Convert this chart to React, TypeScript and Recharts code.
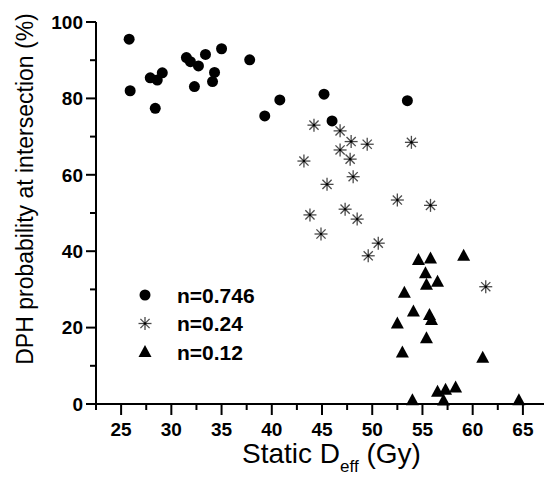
import { ScatterChart, Scatter, XAxis, YAxis, Legend, Label } from 'recharts'

// Static D_eff (Gy), DPH probability (%)
const n0746 = [
    [25.8, 95.5], [25.9, 82.0], [27.9, 85.4], [28.6, 84.8], [29.1, 86.7],
    [28.4, 77.4], [31.5, 90.7], [31.9, 89.6], [32.7, 88.5], [33.4, 91.5],
    [35.0, 93.0], [32.3, 83.1], [34.3, 86.8], [34.1, 84.4], [37.8, 90.1],
    [40.8, 79.6], [39.3, 75.4], [45.2, 81.1], [53.5, 79.4], [46.0, 74.1],
]
const n024 = [
    [44.2, 73.0], [46.8, 71.5], [47.9, 68.7], [49.5, 68.0], [46.8, 66.5],
    [47.8, 64.1], [53.9, 68.5], [43.2, 63.6], [48.1, 59.5], [45.5, 57.5],
    [52.5, 53.4], [55.8, 52.0], [43.8, 49.5], [47.3, 51.0], [48.5, 48.4],
    [44.9, 44.5], [50.6, 42.1], [49.6, 38.8], [61.3, 30.7],
]
const n012 = [
    [54.6, 37.7], [55.8, 38.1], [59.1, 38.8], [55.3, 34.2], [56.5, 32.0],
    [55.4, 31.2], [53.2, 29.1], [54.1, 24.2], [55.7, 23.3], [55.9, 22.0],
    [52.5, 21.1], [55.4, 17.2], [53.0, 13.5], [61.0, 12.1], [54.0, 1.0],
    [56.5, 3.2], [57.3, 3.7], [58.3, 4.3], [57.1, 0.9], [64.6, 1.0],
]

const xTicks = [22.5, 25, 27.5, 30, 32.5, 35, 37.5, 40, 42.5, 45, 47.5, 50, 52.5, 55, 57.5, 60, 62.5, 65]
const yTicks = [0, 10, 20, 30, 40, 50, 60, 70, 80, 90, 100]
const seriesNames = ['n=0.746', 'n=0.24', 'n=0.12']

const font = '"Liberation Sans", Arial, sans-serif'

const toPoints = (arr: number[][]) => arr.map(([x, y]) => ({ x, y }))

const Dot = ({ cx, cy }: any) => <circle cx={cx} cy={cy} r={5.5} fill="#000" />

const Asterisk = ({ cx, cy }: any) => {
    const r = 6.5
    const d = r * 0.7071
    return (
        <g stroke="#4a4a4a" strokeWidth={1.3}>
            <line x1={cx - r} y1={cy} x2={cx + r} y2={cy} />
            <line x1={cx} y1={cy - r} x2={cx} y2={cy + r} />
            <line x1={cx - d} y1={cy - d} x2={cx + d} y2={cy + d} />
            <line x1={cx - d} y1={cy + d} x2={cx + d} y2={cy - d} />
            <circle cx={cx} cy={cy} r={1.3} fill="#000" stroke="none" />
        </g>
    )
}

const Tri = ({ cx, cy }: any) => (
    <path d={`M${cx},${cy - 7} L${cx + 6.5},${cy + 5} L${cx - 6.5},${cy + 5} Z`} fill="#000" />
)

const XTick = ({ x, y, payload }: any) => {
    const major = payload.value % 5 === 0
    return (
        <g>
            <line x1={x} x2={x} y1={y} y2={y + (major ? 11 : 6)} stroke="#000" strokeWidth={2} />
            {major && (
                <text x={x} y={y + 32} textAnchor="middle" fontFamily={font} fontWeight="bold" fontSize={19} fill="#000">
                    {payload.value}
                </text>
            )}
        </g>
    )
}

const YTick = ({ x, y, payload }: any) => {
    const major = payload.value % 20 === 0
    return (
        <g>
            <line x1={x - (major ? 10 : 6)} x2={x} y1={y} y2={y} stroke="#000" strokeWidth={2} />
            {major && (
                <text x={x - 13} y={y + 6.8} textAnchor="end" fontFamily={font} fontWeight="bold" fontSize={19} fill="#000">
                    {payload.value}
                </text>
            )}
        </g>
    )
}

const markers = [Dot, Asterisk, Tri]

const renderLegend = () => (
    <svg width={150} height={90}>
        {seriesNames.map((name, i) => {
            const M = markers[i]
            const cy = 15 + i * 28.5
            return (
                <g key={name}>
                    <M cx={15} cy={cy} />
                    <text x={47} y={cy + 7.5} fontFamily={font} fontWeight="bold" fontSize={21} fill="#000">
                        {name}
                    </text>
                </g>
            )
        })}
    </svg>
)

export default function App() {
    return (
        <div style={{ position: 'absolute', left: 0, top: 0, width: 544, height: 478, background: '#fff' }}>
            <ScatterChart width={544} height={478} margin={{ top: 22, right: 0, bottom: 0, left: 36 }}>
                <XAxis
                    type="number"
                    dataKey="x"
                    domain={[22.5, 67.1]}
                    ticks={xTicks}
                    interval={0}
                    height={74}
                    allowDataOverflow
                    tickSize={0}
                    tickMargin={0}
                    tickLine={false}
                    axisLine={{ stroke: '#000', strokeWidth: 2 }}
                    tick={<XTick />}
                >
                    <Label
                        content={() => (
                            <text x={242} y={463} fontFamily={font} fontSize={28} fill="#000">
                                Static D
                                <tspan fontSize={17} dy={9}>eff</tspan>
                                <tspan dy={-9}> (Gy)</tspan>
                            </text>
                        )}
                    />
                </XAxis>
                <YAxis
                    type="number"
                    dataKey="y"
                    domain={[0, 100]}
                    ticks={yTicks}
                    interval={0}
                    width={60}
                    tickSize={0}
                    tickMargin={0}
                    tickLine={false}
                    axisLine={{ stroke: '#000', strokeWidth: 2 }}
                    tick={<YTick />}
                >
                    <Label
                        content={() => (
                            <text
                                transform="translate(33,189) rotate(-90)"
                                textAnchor="middle"
                                fontFamily={font}
                                fontSize={23}
                                fill="#000"
                            >
                                DPH probability at intersection (%)
                            </text>
                        )}
                    />
                </YAxis>
                <Legend
                    layout="vertical"
                    align="center"
                    verticalAlign="middle"
                    content={renderLegend}
                    wrapperStyle={{ position: 'absolute', left: 130, top: 280, bottom: 'auto', width: 150, height: 90 }}
                />
                <Scatter name={seriesNames[0]} data={toPoints(n0746)} shape={<Dot />} isAnimationActive={false} />
                <Scatter name={seriesNames[1]} data={toPoints(n024)} shape={<Asterisk />} isAnimationActive={false} />
                <Scatter name={seriesNames[2]} data={toPoints(n012)} shape={<Tri />} isAnimationActive={false} />
            </ScatterChart>
        </div>
    )
}
